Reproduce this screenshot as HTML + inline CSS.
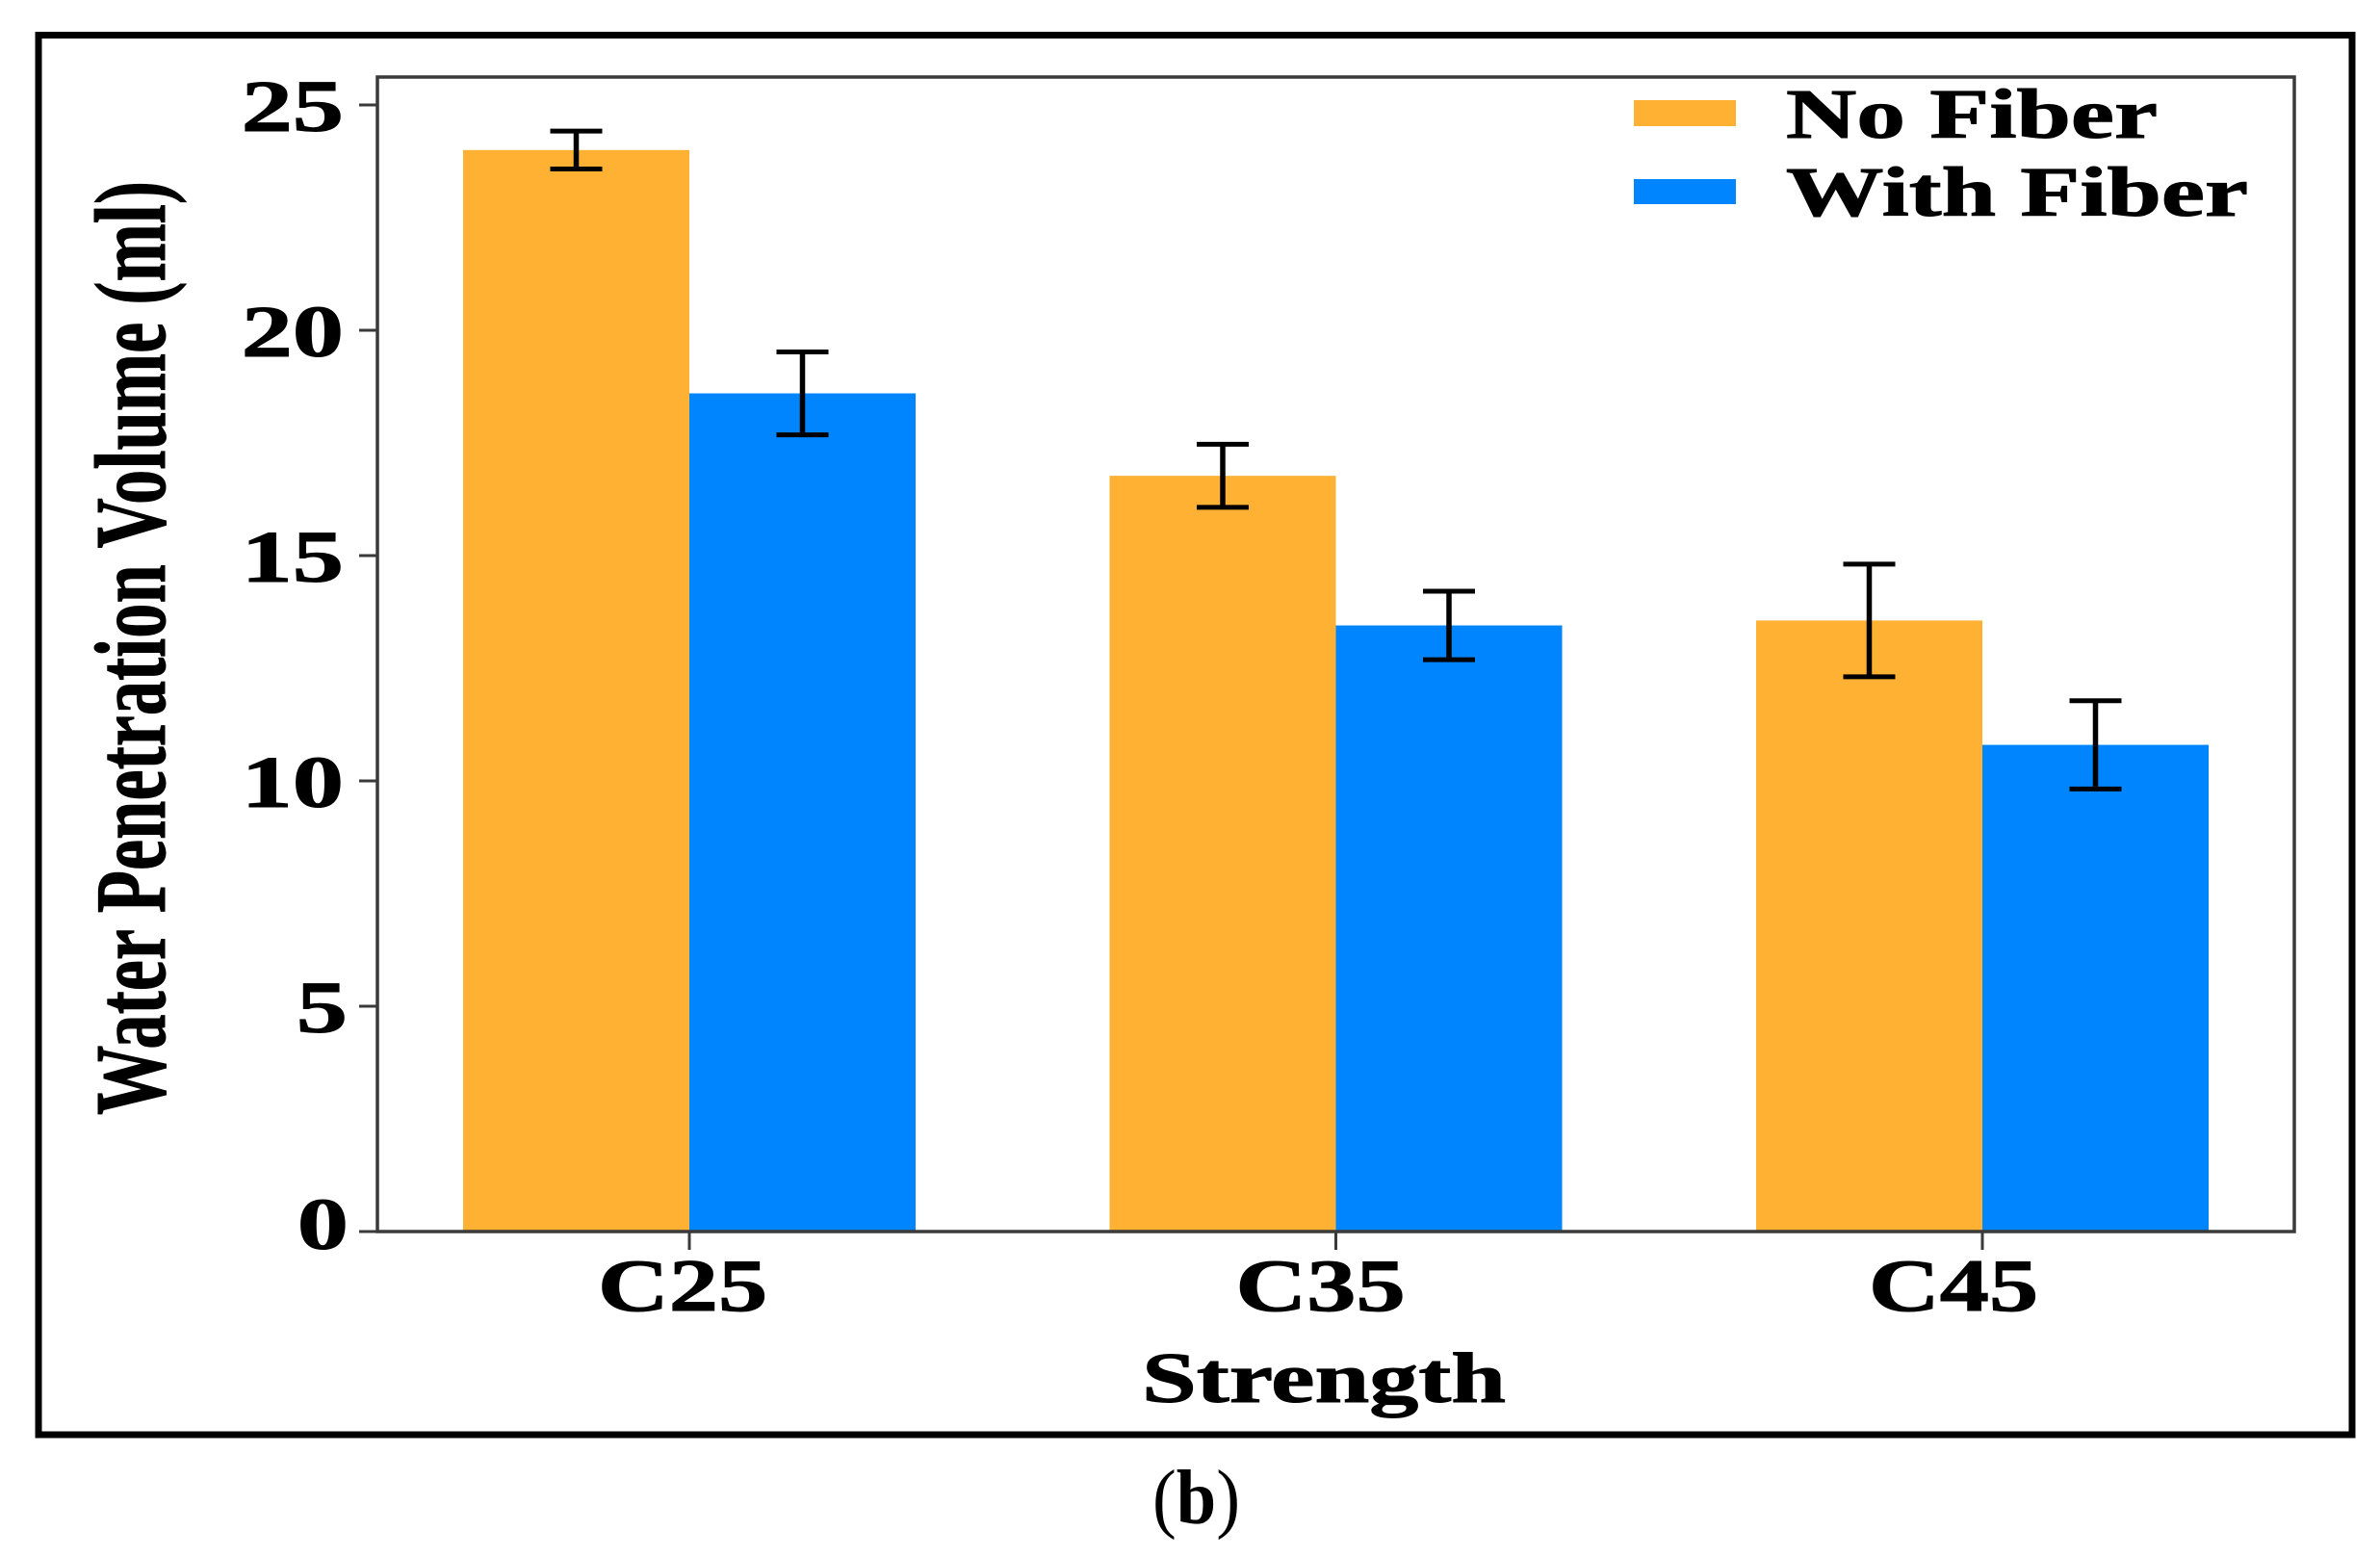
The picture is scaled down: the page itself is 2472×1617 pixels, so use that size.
<!DOCTYPE html>
<html lang="en">
<head>
<meta charset="utf-8">
<title>Water Penetration Volume by Strength</title>
<style>
html,body{margin:0;padding:0;background:#fff;}
svg{display:block;}
text{font-family:"Liberation Serif",serif;font-weight:bold;fill:#000;stroke:#000;stroke-width:1px;}
</style>
</head>
<body>
<svg id="chart" xmlns="http://www.w3.org/2000/svg" width="2472" height="1617" viewBox="0 0 2472 1617">
  <rect x="0" y="0" width="2472" height="1617" fill="#ffffff"/>
  <rect x="40" y="36.5" width="2403" height="1453.5" fill="none" stroke="#000" stroke-width="7"/>
  <g id="bars"></g>
  <g id="errors"></g>
  <g id="axes"></g>
  <rect x="392" y="80" width="1991" height="1199" fill="none" stroke="#3a3a3a" stroke-width="3.5"/>
  <text transform="translate(171,1158) rotate(-90)" font-size="105" textLength="970" lengthAdjust="spacingAndGlyphs">Water Penetration Volume (ml)</text>
  <text x="1186" y="1456" font-size="74" textLength="378" lengthAdjust="spacingAndGlyphs">Strength</text>
  <g>
    <g>
      <rect x="1697" y="104" width="106" height="27" fill="#ffb133"/>
      <text x="1855" y="143" font-size="73" textLength="386" lengthAdjust="spacingAndGlyphs">No Fiber</text>
    </g>
    <g>
      <rect x="1697" y="186" width="106" height="26" fill="#0085ff"/>
      <text x="1855" y="224" font-size="73" textLength="480" lengthAdjust="spacingAndGlyphs">With Fiber</text>
    </g>
  </g>
  <text x="1197" y="1582" font-size="80" textLength="91" lengthAdjust="spacingAndGlyphs" style="font-weight:normal;stroke:none">(<tspan style="font-weight:bold">b</tspan>)</text>
</svg>
<script>
const categories = ['C25', 'C35', 'C45'];
const noFiberValues = [24.0, 16.77, 13.56];
const withFiberValues = [18.6, 13.45, 10.8];
const noFiberErrors = [0.42, 0.70, 1.25];
const withFiberErrors = [0.92, 0.76, 0.98];
const yTicks = [0, 5, 10, 15, 20, 25];

const NS = 'http://www.w3.org/2000/svg';
const yZero = 1279, yPerUnit = 46.8;
const firstTickX = 716, groupStep = 671.5, barWidth = 235;
const capHalf = 27;

function yScale(v) { return yZero - v * yPerUnit; }
function xCenter(i) { return firstTickX + i * groupStep; }

function make(tag, parent, attrs) {
  const el = document.createElementNS(NS, tag);
  for (const k in attrs) el.setAttribute(k, attrs[k]);
  parent.appendChild(el);
  return el;
}
function line(parent, x1, y1, x2, y2, color, width) {
  return make('line', parent, {x1: x1, y1: y1, x2: x2, y2: y2, stroke: color, 'stroke-width': width});
}

const barsG = document.getElementById('bars');
const errorsG = document.getElementById('errors');
const axesG = document.getElementById('axes');

function drawSeries(values, errors, color, offset, key) {
  values.forEach(function (v, i) {
    const left = xCenter(i) + offset * barWidth;
    const bar = make('rect', barsG, {x: left, y: yScale(v), width: barWidth, height: yZero - yScale(v), fill: color});
    
    

    const cx = left + barWidth / 2;
    const g = make('g', errorsG, {});
    
    
    line(g, cx, yScale(v + errors[i]), cx, yScale(v - errors[i]), '#000', 5.5);
    line(g, cx - capHalf, yScale(v + errors[i]), cx + capHalf, yScale(v + errors[i]), '#000', 5);
    line(g, cx - capHalf, yScale(v - errors[i]), cx + capHalf, yScale(v - errors[i]), '#000', 5);
  });
}
drawSeries(noFiberValues, noFiberErrors, '#ffb133', -1, 'no-fiber');
drawSeries(withFiberValues, withFiberErrors, '#0085ff', 0, 'with-fiber');

yTicks.forEach(function (t) {
  const y = yScale(t);
  const mark = line(axesG, 373, y, 392, y, '#3a3a3a', 3);
  
  
  const label = make('text', axesG, {
    'font-size': 76,
    'text-anchor': 'end',
    transform: 'translate(' + (t === 0 ? 362 : t === 5 ? 361 : 357) + ',' + (y + (t === 0 ? 18 : 27)) + ') scale(1.40,1)'
  });
  label.textContent = String(t);
  
  
});

categories.forEach(function (c, i) {
  const x = xCenter(i);
  const mark = line(axesG, x, yZero, x, yZero + 19, '#3a3a3a', 3);
  
  
  const label = make('text', axesG, {
    'font-size': 77,
    'text-anchor': 'middle',
    transform: 'translate(' + (x - 7 - i * 9 - (i === 2 ? 5 : 0)) + ',1361) scale(1.33,1)'
  });
  label.textContent = c;
  
  
});
</script>
</body>
</html>
